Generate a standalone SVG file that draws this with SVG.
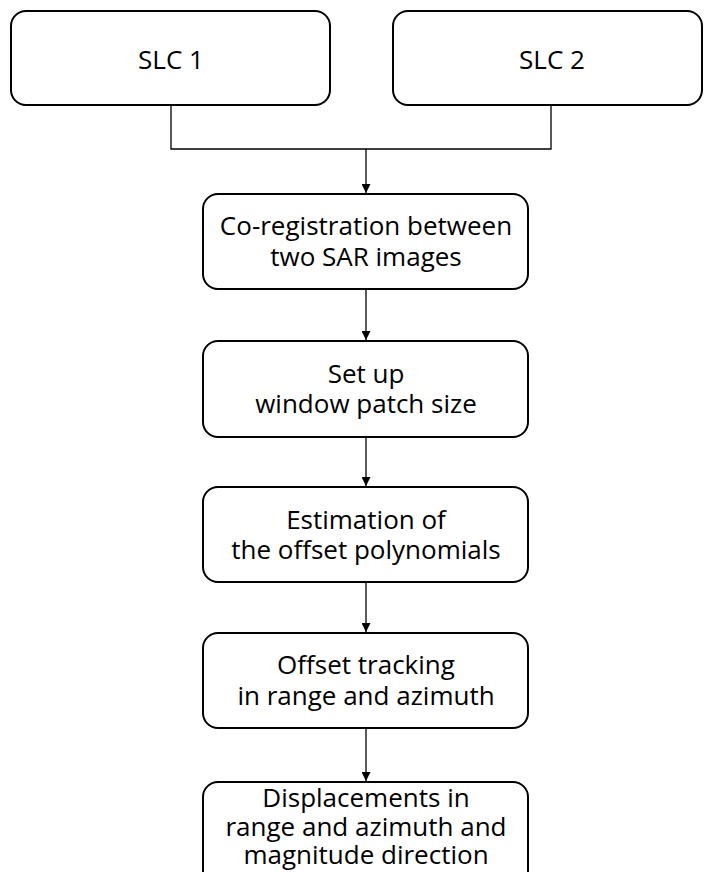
<svg xmlns="http://www.w3.org/2000/svg" width="704" height="872" viewBox="0 0 704 872">
<style>
.box{fill:#fff;stroke:#000;stroke-width:2}
.t{font-family:"Open Sans","Noto Sans",sans-serif;font-size:26px;fill:#000;text-anchor:middle}
.c{fill:none;stroke:#000;stroke-width:1.3}
</style>
<defs>
<marker id="ah" viewBox="0 0 10 10" refX="10" refY="5" markerWidth="9" markerHeight="9" markerUnits="userSpaceOnUse" orient="auto">
<path d="M0,0 L10,5 L0,10 z" fill="#000"/>
</marker>
</defs>
<rect width="704" height="872" fill="#fff"/>
<g id="connectors">
<path class="c" d="M171,105 V149 H551 V105"/>
<path class="c" d="M366,149 V193" marker-end="url(#ah)"/>
<path class="c" d="M366,289 V340" marker-end="url(#ah)"/>
<path class="c" d="M366,437 V486" marker-end="url(#ah)"/>
<path class="c" d="M366,582 V632" marker-end="url(#ah)"/>
<path class="c" d="M366,728 V781" marker-end="url(#ah)"/>
</g>
<g id="slc1">
<rect class="box" x="11" y="11" width="319" height="94" rx="15"/>
<text class="t" x="171" y="69">SLC 1</text>
</g>
<g id="slc2">
<rect class="box" x="393" y="11" width="309" height="94" rx="15"/>
<text class="t" x="552" y="69">SLC 2</text>
</g>
<g id="coreg">
<rect class="box" x="203" y="194" width="325" height="95" rx="15"/>
<text class="t" x="366" y="235">Co-registration between</text>
<text class="t" x="366" y="266">two SAR images</text>
</g>
<g id="window">
<rect class="box" x="203" y="341" width="325" height="96" rx="15"/>
<text class="t" x="366" y="383">Set up</text>
<text class="t" x="366" y="413">window patch size</text>
</g>
<g id="estimation">
<rect class="box" x="203" y="487" width="325" height="95" rx="15"/>
<text class="t" x="366" y="529">Estimation of</text>
<text class="t" x="366" y="559"> the offset polynomials</text>
</g>
<g id="tracking">
<rect class="box" x="203" y="633" width="325" height="95" rx="15"/>
<text class="t" x="366" y="674">Offset tracking</text>
<text class="t" x="366" y="705">in range and azimuth</text>
</g>
<g id="displacements">
<rect class="box" x="203" y="782" width="325" height="110" rx="15"/>
<text class="t" x="366" y="807">Displacements in</text>
<text class="t" x="366" y="836">range and azimuth and</text>
<text class="t" x="366" y="864">magnitude direction</text>
</g>
</svg>
